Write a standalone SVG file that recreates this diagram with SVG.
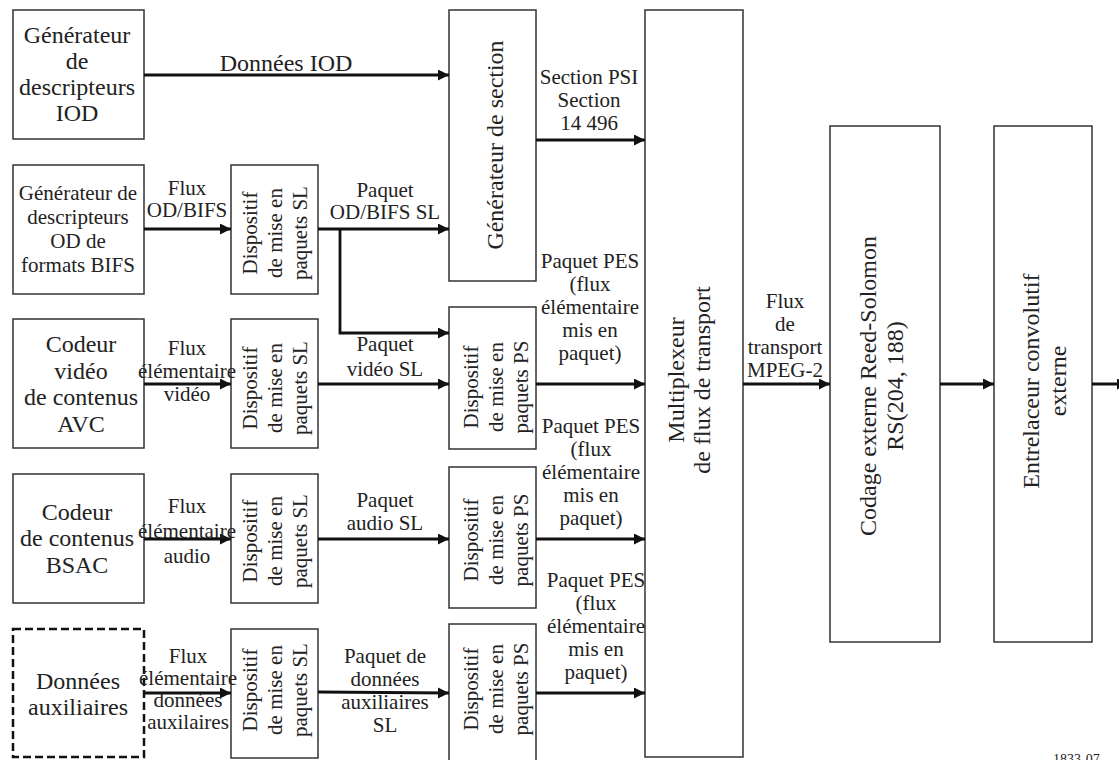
<svg xmlns="http://www.w3.org/2000/svg" width="1119" height="760" viewBox="0 0 1119 760" font-family="'Liberation Serif', Tinos, 'Times New Roman', 'DejaVu Serif', serif">
<style>
.box{fill:#fff;stroke:#333;stroke-width:1.5}
.dash{fill:#fff;stroke:#111;stroke-width:2.5;stroke-dasharray:8,4}
.t{font-family:'Liberation Serif',Tinos,'Times New Roman','DejaVu Serif',serif;font-size:24px;fill:#222;text-anchor:middle}
.s{font-family:'Liberation Serif',Tinos,'Times New Roman','DejaVu Serif',serif;font-size:21px;fill:#222;text-anchor:middle}
.l{font-family:'Liberation Serif',Tinos,'Times New Roman','DejaVu Serif',serif;font-size:21px;fill:#222;text-anchor:middle}
.n{font-family:'Liberation Serif',Tinos,'Times New Roman','DejaVu Serif',serif;font-size:14px;fill:#222}
.c{fill:none;stroke:#111;stroke-width:2.8;marker-end:url(#ah)}
</style>
<defs>
<marker id="ah" markerUnits="userSpaceOnUse" markerWidth="12" markerHeight="12" refX="11" refY="5.5" orient="auto">
<path d="M0,0 L11,5.5 L0,11 z" fill="#111"/>
</marker>
</defs>

<g id="iod-gen">
<rect class="box" x="13" y="10" width="131" height="129"/>
<text class="t" x="77" y="43">Générateur</text>
<text class="t" x="77" y="69">de</text>
<text class="t" x="77" y="95">descripteurs</text>
<text class="t" x="77" y="121">IOD</text>
</g>
<g id="od-gen">
<rect class="box" x="13" y="165" width="131" height="129"/>
<text class="s" x="78" y="200">Générateur de</text>
<text class="s" x="78" y="224">descripteurs</text>
<text class="s" x="78" y="248">OD de</text>
<text class="s" x="78" y="272">formats BIFS</text>
</g>
<g id="avc">
<rect class="box" x="13" y="319" width="131" height="129"/>
<text class="t" x="81" y="352">Codeur</text>
<text class="t" x="81" y="379">vidéo</text>
<text class="t" x="81" y="405">de contenus</text>
<text class="t" x="81" y="432">AVC</text>
</g>
<g id="bsac">
<rect class="box" x="13" y="474" width="131" height="129"/>
<text class="t" x="77" y="520">Codeur</text>
<text class="t" x="77" y="546">de contenus</text>
<text class="t" x="77" y="573">BSAC</text>
</g>
<g id="aux">
<rect class="dash" x="13" y="629" width="131" height="128"/>
<text class="t" x="78" y="689">Données</text>
<text class="t" x="78" y="715">auxiliaires</text>
</g>

<g id="sl1">
<rect class="box" x="231" y="165" width="87" height="129"/>
<g transform="translate(0,233) rotate(-90)">
<text class="l" x="0" y="257">Dispositif</text>
<text class="l" x="0" y="282">de mise en</text>
<text class="l" x="0" y="307">paquets SL</text>
</g>
</g>
<g id="sl2">
<rect class="box" x="231" y="319" width="87" height="129"/>
<g transform="translate(0,388) rotate(-90)">
<text class="l" x="0" y="257">Dispositif</text>
<text class="l" x="0" y="282">de mise en</text>
<text class="l" x="0" y="307">paquets SL</text>
</g>
</g>
<g id="sl3">
<rect class="box" x="231" y="474" width="87" height="129"/>
<g transform="translate(0,541) rotate(-90)">
<text class="l" x="0" y="257">Dispositif</text>
<text class="l" x="0" y="282">de mise en</text>
<text class="l" x="0" y="307">paquets SL</text>
</g>
</g>
<g id="sl4">
<rect class="box" x="231" y="629" width="87" height="129"/>
<g transform="translate(0,690) rotate(-90)">
<text class="l" x="0" y="257">Dispositif</text>
<text class="l" x="0" y="282">de mise en</text>
<text class="l" x="0" y="307">paquets SL</text>
</g>
</g>

<g id="section-gen">
<rect class="box" x="449" y="10" width="87" height="271"/>
<text class="t" transform="translate(503,145) rotate(-90)" x="0" y="0">Générateur de section</text>
</g>
<g id="ps1">
<rect class="box" x="449" y="307" width="87" height="142"/>
<g transform="translate(0,387) rotate(-90)">
<text class="l" x="0" y="478">Dispositif</text>
<text class="l" x="0" y="503">de mise en</text>
<text class="l" x="0" y="528">paquets PS</text>
</g>
</g>
<g id="ps2">
<rect class="box" x="449" y="467" width="87" height="141"/>
<g transform="translate(0,540) rotate(-90)">
<text class="l" x="0" y="478">Dispositif</text>
<text class="l" x="0" y="503">de mise en</text>
<text class="l" x="0" y="528">paquets PS</text>
</g>
</g>
<g id="ps3">
<rect class="box" x="449" y="624" width="87" height="140"/>
<g transform="translate(0,689) rotate(-90)">
<text class="l" x="0" y="478">Dispositif</text>
<text class="l" x="0" y="503">de mise en</text>
<text class="l" x="0" y="528">paquets PS</text>
</g>
</g>

<g id="mux">
<rect class="box" x="645" y="10" width="98" height="747"/>
<g transform="translate(0,380) rotate(-90)">
<text class="t" x="0" y="684">Multiplexeur</text>
<text class="t" x="0" y="710">de flux de transport</text>
</g>
</g>
<g id="rs">
<rect class="box" x="830" y="126" width="110" height="516"/>
<g transform="translate(0,386) rotate(-90)">
<text class="t" x="0" y="876">Codage externe Reed-Solomon</text>
<text class="t" x="0" y="903">RS(204, 188)</text>
</g>
</g>
<g id="interleaver">
<rect class="box" x="994" y="126" width="98" height="516"/>
<g transform="translate(0,381) rotate(-90)">
<text class="t" x="0" y="1039">Entrelaceur convolutif</text>
<text class="t" x="0" y="1066">externe</text>
</g>
</g>

<g id="connectors">
<path class="c" d="M144,75 H449"/>
<path class="c" d="M536,140 H645"/>
<path class="c" d="M144,229 H231"/>
<path class="c" d="M318,229 H449"/>
<path class="c" d="M340,229 V333 H449"/>
<path class="c" d="M144,384 H231"/>
<path class="c" d="M318,384 H449"/>
<path class="c" d="M536,384 H645"/>
<path class="c" d="M144,539 H231"/>
<path class="c" d="M318,539 H449"/>
<path class="c" d="M536,539 H645"/>
<path class="c" d="M144,693 H231"/>
<path class="c" d="M318,692 L449,693"/>
<path class="c" d="M536,693 H645"/>
<path class="c" d="M743,384 H830"/>
<path class="c" d="M940,384 H994"/>
<path class="c" d="M1092,384 H1128"/>
</g>

<g id="labels">
<text class="t" x="286" y="71">Données IOD</text>
<text class="l" x="589" y="84">Section PSI</text>
<text class="l" x="589" y="107">Section</text>
<text class="l" x="589" y="130">14 496</text>

<text class="l" x="187" y="195">Flux</text>
<text class="l" x="187" y="217">OD/BIFS</text>
<text class="l" x="385" y="197">Paquet</text>
<text class="l" x="385" y="219">OD/BIFS SL</text>

<text class="l" x="187" y="355">Flux</text>
<text class="l" x="187" y="378">élémentaire</text>
<text class="l" x="187" y="401">vidéo</text>
<text class="l" x="385" y="351">Paquet</text>
<text class="l" x="385" y="376">vidéo SL</text>
<text class="l" x="590" y="268">Paquet PES</text>
<text class="l" x="590" y="291">(flux</text>
<text class="l" x="590" y="314">élémentaire</text>
<text class="l" x="590" y="337">mis en</text>
<text class="l" x="590" y="360">paquet)</text>

<text class="l" x="187" y="513">Flux</text>
<text class="l" x="187" y="538">élémentaire</text>
<text class="l" x="187" y="563">audio</text>
<text class="l" x="385" y="507">Paquet</text>
<text class="l" x="385" y="530">audio SL</text>
<text class="l" x="591" y="433">Paquet PES</text>
<text class="l" x="591" y="456">(flux</text>
<text class="l" x="591" y="479">élémentaire</text>
<text class="l" x="591" y="502">mis en</text>
<text class="l" x="591" y="525">paquet)</text>

<text class="l" x="188" y="663">Flux</text>
<text class="l" x="188" y="685">élémentaire</text>
<text class="l" x="188" y="707">données</text>
<text class="l" x="188" y="729">auxilaires</text>
<text class="l" x="385" y="663">Paquet de</text>
<text class="l" x="385" y="686">données</text>
<text class="l" x="385" y="709">auxiliaires</text>
<text class="l" x="385" y="732">SL</text>
<text class="l" x="596" y="587">Paquet PES</text>
<text class="l" x="596" y="610">(flux</text>
<text class="l" x="596" y="633">élémentaire</text>
<text class="l" x="596" y="656">mis en</text>
<text class="l" x="596" y="679">paquet)</text>

<text class="l" x="785" y="308">Flux</text>
<text class="l" x="785" y="331">de</text>
<text class="l" x="785" y="354">transport</text>
<text class="l" x="785" y="377">MPEG-2</text>

<text class="n" x="1053" y="764">1833-07</text>
</g>
</svg>
